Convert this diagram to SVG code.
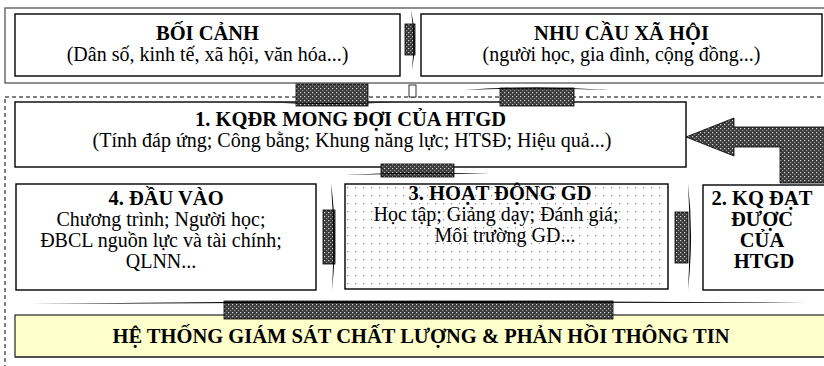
<svg xmlns="http://www.w3.org/2000/svg" width="824" height="366" viewBox="0 0 824 366">
<defs>
<pattern id="dark" width="4" height="4" patternUnits="userSpaceOnUse"><rect width="4" height="4" fill="#3a3a3a"/><rect x="0" y="0" width="1.2" height="1.2" fill="#d8d8d8"/><rect x="2" y="2" width="1.2" height="1.2" fill="#9a9a9a"/></pattern>
<pattern id="dots" width="8" height="8" patternUnits="userSpaceOnUse"><rect width="8" height="8" fill="#fff"/><rect x="3" y="3" width="1.2" height="1.2" fill="#8a8a8a"/></pattern>
</defs>
<style>
text{font-family:"Liberation Serif","Times New Roman",serif;font-size:20px;fill:#000;text-anchor:middle}
.b{font-weight:bold;font-size:20.5px}
.box{fill:#fff;stroke:#000;stroke-width:1.4}
.blk{fill:url(#dark);stroke:#000;stroke-width:0.8}
.lens{fill:#000;stroke:none}
</style>
<rect width="824" height="366" fill="#fff"/>
<g id="frames">
<rect x="5" y="8" width="830" height="75" fill="none" stroke="#555" stroke-width="1.3"/>
<rect x="5" y="97" width="830" height="300" fill="none" stroke="#000" stroke-width="1" stroke-dasharray="4,3"/>
</g>
<g id="boi-canh">
<rect class="box" x="15" y="14" width="385" height="62"/>
<text class="b" x="207.5" y="40">BỐI CẢNH</text>
<text x="207.5" y="61">(Dân số, kinh tế, xã hội, văn hóa...)</text>
</g>
<g id="nhu-cau">
<rect class="box" x="421" y="14" width="401" height="62"/>
<text class="b" x="621.5" y="40">NHU CẦU XÃ HỘI</text>
<text x="621.5" y="61">(người học, gia đình, cộng đồng...)</text>
</g>
<g id="kqdr">
<rect class="box" x="15" y="102" width="671" height="65"/>
<text class="b" x="350.5" y="126">1. KQĐR MONG ĐỢI CỦA HTGD</text>
<text x="352" y="147">(Tính đáp ứng; Công bằng; Khung năng lực; HTSĐ; Hiệu quả...)</text>
</g>
<g id="dau-vao">
<rect class="box" x="16" y="184" width="300" height="106"/>
<text class="b" x="166" y="205">4. ĐẦU VÀO</text>
<text x="161" y="226">Chương trình; Người học;</text>
<text x="161" y="247">ĐBCL nguồn lực và tài chính;</text>
<text x="161" y="268">QLNN...</text>
</g>
<g id="hoat-dong">
<rect x="345" y="184" width="323" height="105" fill="url(#dots)" stroke="#000" stroke-width="1.4"/>
<text class="b" x="500" y="200">3. HOẠT ĐỘNG GD</text>
<text x="496" y="221">Học tập; Giảng dạy; Đánh giá;</text>
<text x="505" y="242">Môi trường GD...</text>
</g>
<g id="kq-dat">
<rect class="box" x="703" y="185" width="130" height="105"/>
<text class="b" x="762" y="205">2. KQ ĐẠT</text>
<text class="b" x="762" y="226">ĐƯỢC</text>
<text class="b" x="762" y="247">CỦA</text>
<text class="b" x="764" y="268">HTGD</text>
</g>
<g id="giam-sat">
<rect x="15" y="315" width="820" height="42" fill="#ffffcc" stroke="#222" stroke-width="1.2"/>
<line x1="15" y1="357" x2="824" y2="357" stroke="#444" stroke-width="1.5"/>
<text class="b" x="421" y="343">HỆ THỐNG GIÁM SÁT CHẤT LƯỢNG &amp; PHẢN HỒI THÔNG TIN</text>
</g>
<g id="connectors">
<rect class="blk" x="405" y="24" width="10" height="31"/>
<path class="lens" d="M411,10 Q418,40 412,70 Q415,40 411,10 Z"/>
<rect x="409" y="85" width="7" height="12" fill="#fff" stroke="#000" stroke-width="0.8"/>
<rect class="blk" x="296" y="84" width="72" height="22"/>
<path class="lens" d="M260,102 Q330,106 400,102 Q330,104 260,102 Z"/>
<rect class="blk" x="500" y="88" width="74" height="18"/>
<path class="lens" d="M464,90 Q537,85 610,90 Q537,87 464,90 Z"/>
<rect class="blk" x="381" y="164" width="73" height="13"/>
<path class="lens" d="M345,175 Q417,171 490,174 Q417,173 345,175 Z"/>
<rect class="blk" x="323" y="210" width="12" height="54"/>
<path class="lens" d="M331,183 Q338,236 332,290 Q335,236 331,183 Z"/>
<rect class="blk" x="675" y="212" width="13" height="51"/>
<path class="lens" d="M688,183 Q694,236 688,290 Q691,236 688,183 Z"/>
<path class="blk" d="M686,137 L734,118 L734,127 L830,127 L830,183 L780,183 L780,147 L734,147 L734,156 Z"/>
<rect class="blk" x="224" y="301" width="389" height="18"/>
<path class="lens" d="M30,304 Q420,299 807,303 Q420,302 30,304 Z"/>
</g>
</svg>
